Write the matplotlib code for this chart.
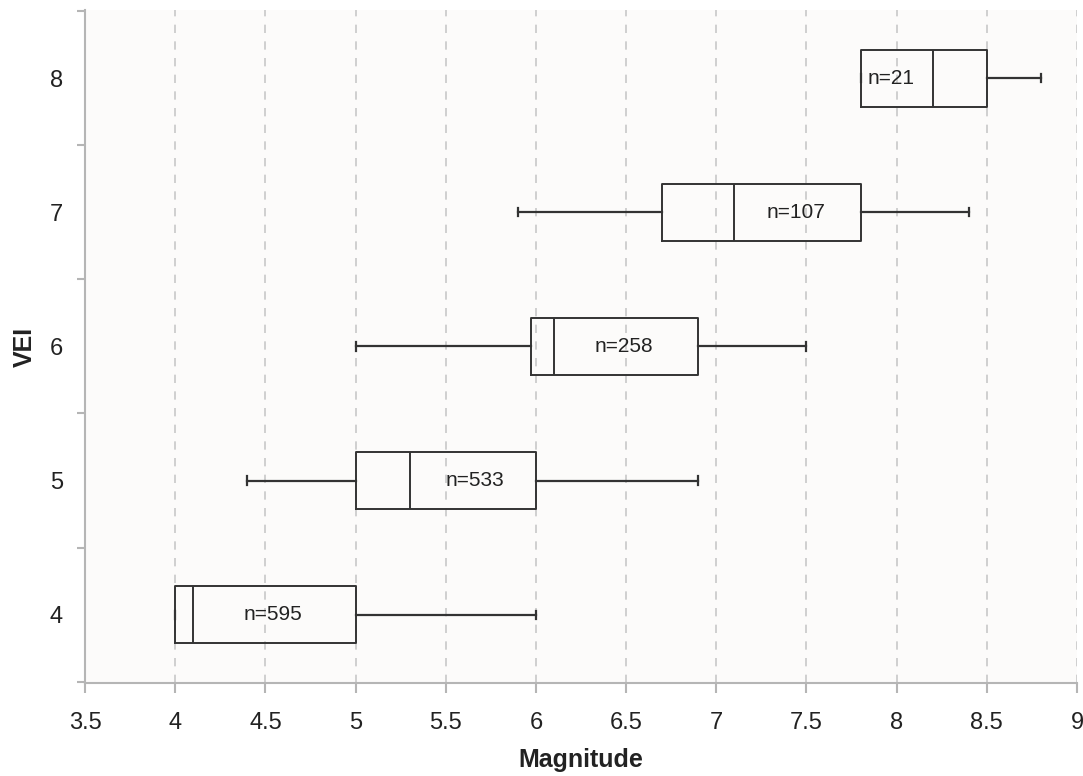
import matplotlib
matplotlib.use("Agg")
import matplotlib.pyplot as plt
from matplotlib.ticker import MultipleLocator

plt.rcParams['font.family'] = ['Liberation Sans', 'DejaVu Sans']

# box stats
vei = [4, 5, 6, 7, 8]
whislo = [4.0, 4.4, 5.0, 5.9, 7.8]
q1 = [4.0, 5.0, 5.97, 6.7, 7.8]
med = [4.1, 5.3, 6.1, 7.1, 8.2]
q3 = [5.0, 6.0, 6.9, 7.8, 8.5]
whishi = [6.0, 6.9, 7.5, 8.4, 8.8]
counts = [595, 533, 258, 107, 21]
label_x = [4.54, 5.66, 6.49, 7.44, 7.97]

stats = []
for i in range(len(vei)):
    stats.append(dict(whislo=whislo[i], q1=q1[i], med=med[i], q3=q3[i],
                      whishi=whishi[i], fliers=[]))

fig = plt.figure(figsize=(10.83, 7.76), dpi=100)
ax = fig.add_axes([0.0785, 0.12, 0.916, 0.867])
ax.set_facecolor('#fcfbfa')

lc = '#333333'
ax.bxp(stats, positions=vei, vert=False, widths=0.42, capwidths=0.06,
       showfliers=False,
       boxprops=dict(color=lc, linewidth=1.4),
       medianprops=dict(color=lc, linewidth=1.4),
       whiskerprops=dict(color=lc, linewidth=1.6),
       capprops=dict(color=lc, linewidth=1.6),
       zorder=3)

for x, y, n in zip(label_x, vei, counts):
    ax.text(x, y, f'n={n}', ha='center', va='center', fontsize=15,
            color='#222222', zorder=4)

ax.set_xlim(3.5, 9)
ax.set_ylim(3.49, 8.51)
ax.set_xticks([3.5 + 0.5 * k for k in range(12)])
ax.set_xticklabels(['3.5', '4', '4.5', '5', '5.5', '6', '6.5', '7', '7.5',
                    '8', '8.5', '9'])
ax.set_yticks(vei)
ax.set_yticklabels([str(v) for v in vei])
ax.yaxis.set_minor_locator(MultipleLocator(1.0, offset=0.5))

ax.grid(axis='x', linestyle=(0, (5, 5)), color='#c8c8c8', linewidth=1.2,
        zorder=0)
ax.set_axisbelow(True)

for s in ['top', 'right']:
    ax.spines[s].set_visible(False)
for s in ['left', 'bottom']:
    ax.spines[s].set_color('#b5b5b5')
    ax.spines[s].set_linewidth(1.5)

ax.tick_params(axis='x', direction='out', length=7, width=1.5,
               color='#b5b5b5', labelsize=17, labelcolor='#222222', pad=14)
ax.tick_params(axis='y', which='major', length=0, labelsize=17,
               labelcolor='#222222', pad=16)
ax.tick_params(axis='y', which='minor', direction='out', length=6, width=1.5,
               color='#b5b5b5')

ax.set_xlabel('Magnitude', fontsize=18, fontweight='bold', labelpad=10,
              color='#222222')
ax.set_ylabel('VEI', fontsize=18, fontweight='bold', labelpad=9,
              color='#222222')

plt.savefig('out.png', dpi=100)
